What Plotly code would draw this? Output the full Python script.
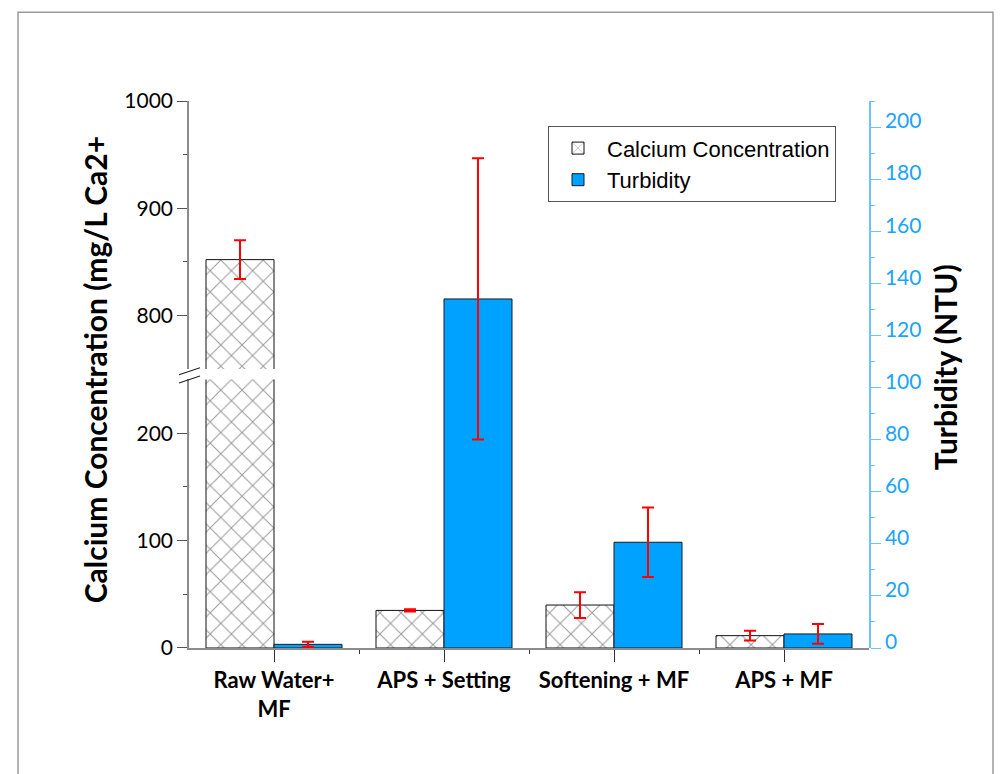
import plotly.graph_objects as go

# ---------------- data ----------------
categories = ["Raw Water+<br>MF", "APS + Setting", "Softening + MF", "APS + MF"]
calcium = [852, 35, 40, 11.5]
calcium_err = [18, 1, 12, 4.5]
turbidity = [1.4, 134, 40.6, 5.4]
turbidity_err = [1.0, 54, 13.3, 3.8]

lower_ticks = [0, 100, 200]
upper_ticks = [800, 900, 1000]
turb_ticks = [0, 20, 40, 60, 80, 100, 120, 140, 160, 180, 200]

# ---------------- layout geometry (pixels) ----------------
FW, FH = 1000, 774
L, R, T, B = 189, 869, 100.7, 647.7
W, H = R - L, B - T


def px(x):
    return (x - L) / W


def py(y):
    return (B - y) / H


xs = list(range(len(categories)))
BAR_W = 0.4
BLUE = "#00A2FF"
AXBLUE = "#6CC3FF"
LBLBLUE = "#1AA3FF"
RED = "#FF0000"
TITLE_FONT = dict(family="Lato", size=30, color="black")

pattern = dict(shape="x", fgcolor="#333333", bgcolor="white", size=15, solidity=0.13)

fig = go.Figure()

common_ca = dict(
    x=xs, y=calcium, width=BAR_W, offset=-BAR_W,
    marker=dict(color="white", pattern=pattern, line=dict(color="#111", width=1)),
    error_y=dict(type="data", array=calcium_err, color=RED, thickness=2, width=6),
    name="Calcium Concentration",
)
fig.add_trace(go.Bar(**common_ca, xaxis="x", yaxis="y", showlegend=True))
fig.add_trace(go.Bar(**common_ca, xaxis="x", yaxis="y3", showlegend=False))

fig.add_trace(go.Bar(
    x=xs, y=turbidity, width=BAR_W, offset=0,
    marker=dict(color=BLUE, line=dict(color="#1a1a1a", width=1)),
    error_y=dict(type="data", array=turbidity_err, color=RED, thickness=2, width=6),
    name="Turbidity", xaxis="x", yaxis="y2",
))

tickfont = dict(family="Lato", size=21, color="black")

fig.update_layout(
    width=FW, height=FH, autosize=False,
    margin=dict(l=L, r=FW - R, t=T, b=FH - B, pad=0),
    paper_bgcolor="white", plot_bgcolor="rgba(0,0,0,0)",
    barmode="overlay",
    xaxis=dict(
        range=[-0.5, len(categories) - 0.5], tickvals=xs, ticktext=categories,
        ticks="outside", ticklen=12, tickwidth=1.2, tickcolor="#333",
        minor=dict(tickvals=[i + 0.5 for i in xs[:-1]], ticks="outside", ticklen=4, tickcolor="#333"),
        showline=True, linecolor="#8c8c8c", linewidth=1.5,
        showgrid=False, zeroline=False, anchor="y",
        tickfont=dict(family="Lato", size=22, color="black", weight="bold"),
    ),
    xaxis2=dict(
        overlaying="x", side="top", anchor="free", position=1,
        range=[-0.5, len(categories) - 0.5], tickvals=xs,
        ticks="inside", ticklen=10, tickcolor="#222", showticklabels=False,
        showline=True, linecolor="#222", linewidth=1, showgrid=False, zeroline=False,
    ),
    yaxis=dict(
        domain=[0, 0.4909], range=[0, 250], tickvals=lower_ticks,
        ticks="outside", ticklen=10, tickcolor="#555",
        minor=dict(tickvals=[50, 150], ticks="outside", ticklen=4, tickcolor="#555"),
        showline=True, linecolor="#8c8c8c", linewidth=1.5,
        showgrid=False, zeroline=False, tickfont=tickfont, anchor="x",
    ),
    yaxis3=dict(
        domain=[0.5102, 1], range=[750, 1000], tickvals=upper_ticks,
        ticks="outside", ticklen=10, tickcolor="#555",
        minor=dict(tickvals=[850, 950], ticks="outside", ticklen=4, tickcolor="#555"),
        showline=True, linecolor="#8c8c8c", linewidth=1.5,
        showgrid=False, zeroline=False, tickfont=tickfont, anchor="x",
    ),
    yaxis2=dict(
        domain=[0, 1], range=[0, 210], tickvals=turb_ticks, side="right", anchor="x",
        ticks="outside", ticklen=10, tickcolor=AXBLUE,
        minor=dict(tickvals=[t + 10 for t in turb_ticks], ticks="outside", ticklen=4, tickcolor=AXBLUE),
        showline=True, linecolor=AXBLUE, linewidth=1.5,
        showgrid=False, zeroline=False,
        tickfont=dict(family="Lato", size=21, color=LBLBLUE),
        ticklabelshift=-6,
    ),
    legend=dict(
        x=px(548), y=py(126), xanchor="left", yanchor="top",
        bgcolor="white", bordercolor="#555", borderwidth=1,
        font=dict(family="Liberation Sans", size=22, color="black"),
        tracegroupgap=0, itemwidth=48,
    ),
    showlegend=True,
)

# axis titles
fig.add_annotation(
    text="<b>Calcium Concentration (mg/L Ca2+</b>", textangle=-90,
    xref="paper", yref="paper", x=px(95), y=py(370),
    xanchor="center", yanchor="middle", showarrow=False, font=TITLE_FONT,
)
fig.add_annotation(
    text="<b>Turbidity (NTU)</b>", textangle=-90,
    xref="paper", yref="paper", x=px(945), y=py(367),
    xanchor="center", yanchor="middle", showarrow=False, font=TITLE_FONT,
)

# break marks on the left axis
for (x0, y0, x1, y1) in [(179, 382.7, 200, 375.7), (179, 374.5, 200, 367.5)]:
    fig.add_shape(type="line", xref="paper", yref="paper",
                  x0=px(x0), y0=py(y0), x1=px(x1), y1=py(y1),
                  line=dict(color="#222", width=1.2))

# outer frame
fig.add_shape(type="rect", xref="paper", yref="paper",
              x0=px(18), y0=py(900), x1=px(993), y1=py(12),
              line=dict(color="#9a9a9a", width=1.5), fillcolor="rgba(0,0,0,0)", layer="below")

fig.write_html("out.html")
